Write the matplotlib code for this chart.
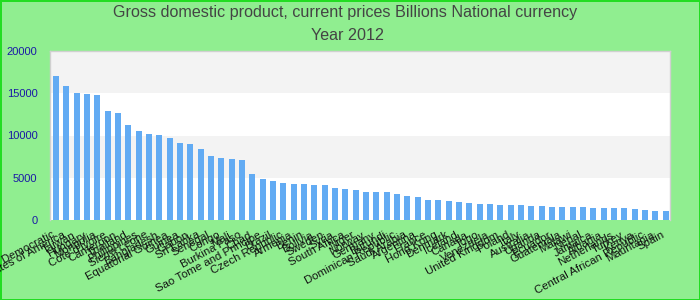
import matplotlib
matplotlib.use("Agg")
import matplotlib.pyplot as plt
import matplotlib.transforms as mtransforms
import numpy as np

countries = [
    "Congo, Democratic", "United States of America", "Taiwan", "Hungary", "Mongolia",
    "Cote d'Ivoire", "Cameroon", "Thailand", "Philippines", "Sierra Leone",
    "Bangladesh", "Equatorial Guinea", "Guinea", "Gabon", "Sri Lanka",
    "Senegal", "Congo", "Mali", "Burkina Faso", "Chad",
    "Sao Tome and Principe", "Brazil", "Czech Republic", "Armenia", "Benin",
    "Bolivia", "Sweden", "Syria", "South Africa", "Niger",
    "Norway", "Germany", "Burundi", "Dominican Republic", "Saudi Arabia",
    "Argentina", "France", "Hong Kong", "Denmark", "Iceland",
    "Canada", "Togo", "Venezuela", "United Kingdom", "Poland",
    "Italy", "Australia", "Uganda", "Ecuador", "Guatemala",
    "Malawi", "Nepal", "Jamaica", "Albania", "Netherlands",
    "Turkey", "Kenya", "Central African Republic", "Mauritania", "Spain",
]
gdp = [
    17040, 15860, 15030, 14910, 14790, 12900, 12660, 11240, 10530, 10180,
    10060, 9700, 9110, 8990, 8400, 7570, 7340, 7220, 7100, 5440,
    4850, 4620, 4380, 4260, 4260, 4140, 4140, 3790, 3670, 3550,
    3310, 3310, 3310, 3080, 2840, 2720, 2370, 2370, 2250, 2130,
    2010, 1890, 1890, 1780, 1780, 1780, 1660, 1660, 1540, 1540,
    1540, 1540, 1420, 1420, 1420, 1420, 1300, 1180, 1070, 1070,
]
yticks = [0, 5000, 10000, 15000, 20000]
title1 = "Gross domestic product, current prices Billions National currency"
title2 = "Year 2012"

plt.rcParams['font.family'] = ['Liberation Sans', 'DejaVu Sans']

fig = plt.figure(figsize=(7, 3), dpi=100)
fig.patch.set_facecolor('#90ee90')
fig.patch.set_edgecolor('#22dd22')
fig.patch.set_linewidth(2)

ax = fig.add_axes([50 / 700, 80 / 300, 620 / 700, 169 / 300])
ax.set_facecolor('white')

# alternating bands
for i in range(len(yticks) - 1):
    if i % 2 == 1:
        ax.axhspan(yticks[i], yticks[i + 1], color='#f3f3f3', zorder=0, lw=0)

x = np.arange(len(countries))
ax.bar(x, gdp, width=0.58, color='#62abf3', zorder=2)

ax.set_xlim(-0.58, len(countries) - 0.58)
ax.set_ylim(0, 20000)
ax.set_yticks(yticks)
ax.set_yticklabels([str(v) for v in yticks], color='#1a1aa6', fontsize=8)
ax.tick_params(axis='y', length=0, pad=9)
ax.set_xticks(x)
ax.set_xticklabels(countries, rotation=28, ha='right', rotation_mode='anchor',
                   fontsize=8.2, color='#111111')
ax.tick_params(axis='x', length=0, pad=7)
shift = mtransforms.ScaledTranslation(-4 / 100, 0, fig.dpi_scale_trans)
for lbl in ax.get_xticklabels():
    lbl.set_transform(lbl.get_transform() + shift)

for side in ['left', 'right', 'top']:
    ax.spines[side].set_color('#d0d0d0')
    ax.spines[side].set_linewidth(1)
ax.spines['bottom'].set_visible(False)

fig.text(0.493, 1 - 13 / 300, title1, ha='center', va='center', fontsize=11.6,
         color='#444444')
fig.text(0.497, 1 - 36 / 300, title2, ha='center', va='center', fontsize=11.6,
         color='#444444')

fig.savefig('out.png', dpi=100, facecolor=fig.get_facecolor(), edgecolor=fig.get_edgecolor())
